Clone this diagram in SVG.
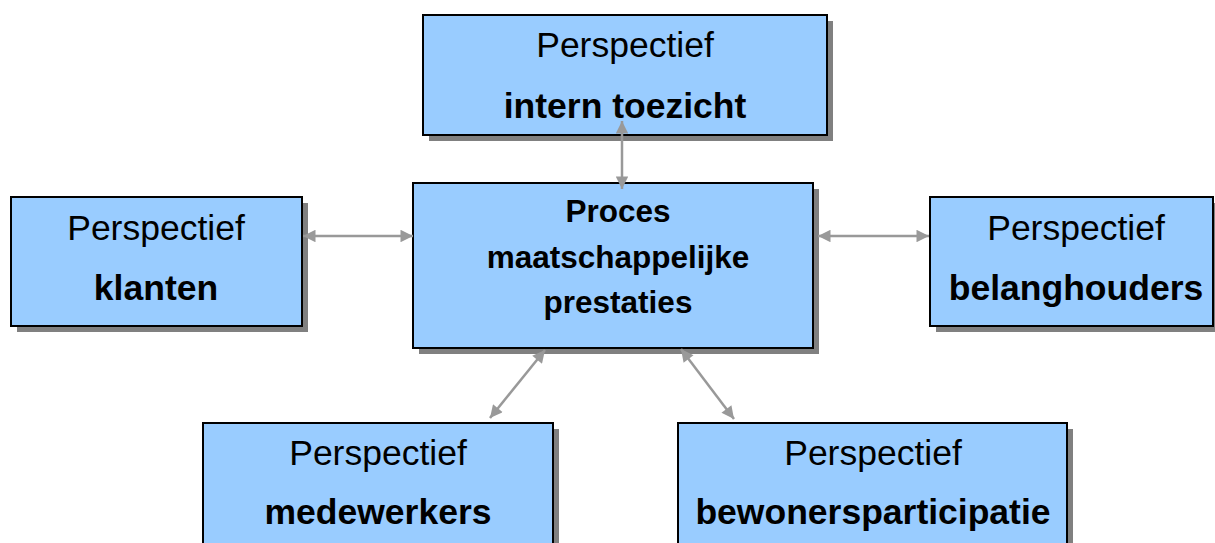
<svg xmlns="http://www.w3.org/2000/svg" width="1215" height="543" viewBox="0 0 1215 543">
<style>
.sh{fill:#808080}
.bx{fill:#99CCFF;stroke:#000;stroke-width:2}
.t{font-family:"Liberation Sans",Arial,sans-serif;font-size:35.5px;fill:#000;text-anchor:middle}
.b{font-weight:bold}
.c{font-size:31.5px}
.ln{stroke:#999;stroke-width:2.5;fill:none;marker-start:url(#ah);marker-end:url(#ah)}
</style>
<defs>
<marker id="ah" viewBox="0 0 10 10" refX="10" refY="5" markerWidth="6" markerHeight="5" markerUnits="strokeWidth" orient="auto-start-reverse">
<path d="M0,0 L10,5 L0,10 z" fill="#999"/>
</marker>
</defs>
<g id="node-intern">
<rect class="sh" x="429" y="21" width="404" height="120"/>
<rect class="bx" x="423" y="15" width="404" height="120"/>
<text class="t" x="625" y="57">Perspectief</text>
<text class="t b" x="625" y="118">intern toezicht</text>
</g>
<g id="node-proces">
<rect class="sh" x="419" y="189" width="400" height="165"/>
<rect class="bx" x="413" y="183" width="400" height="165"/>
<text class="t b c" x="618" y="222">Proces</text>
<text class="t b c" x="618" y="268">maatschappelijke</text>
<text class="t b c" x="618" y="313">prestaties</text>
</g>
<g id="node-klanten">
<rect class="sh" x="17" y="203" width="291" height="129"/>
<rect class="bx" x="11" y="197" width="291" height="129"/>
<text class="t" x="156" y="240">Perspectief</text>
<text class="t b" x="156" y="300">klanten</text>
</g>
<g id="node-belanghouders">
<rect class="sh" x="936" y="203" width="284" height="129"/>
<rect class="bx" x="930" y="197" width="283" height="129"/>
<text class="t" x="1076" y="240">Perspectief</text>
<text class="t b" x="1076" y="300">belanghouders</text>
</g>
<g id="node-medewerkers">
<rect class="sh" x="209" y="429" width="350" height="130"/>
<rect class="bx" x="203" y="423" width="350" height="130"/>
<text class="t" x="378" y="465">Perspectief</text>
<text class="t b" x="378" y="524">medewerkers</text>
</g>
<g id="node-bewonersparticipatie">
<rect class="sh" x="684" y="429" width="389" height="130"/>
<rect class="bx" x="678" y="423" width="389" height="130"/>
<text class="t" x="873" y="465">Perspectief</text>
<text class="t b" x="873" y="524">bewonersparticipatie</text>
</g>
<g id="connectors">
<line class="ln" x1="622" y1="121" x2="622" y2="189"/>
<line class="ln" x1="303" y1="236" x2="413" y2="236"/>
<line class="ln" x1="818" y1="236" x2="929" y2="236"/>
<line class="ln" x1="545" y1="350" x2="490" y2="418"/>
<line class="ln" x1="681" y1="349" x2="734" y2="419"/>
</g>
</svg>
